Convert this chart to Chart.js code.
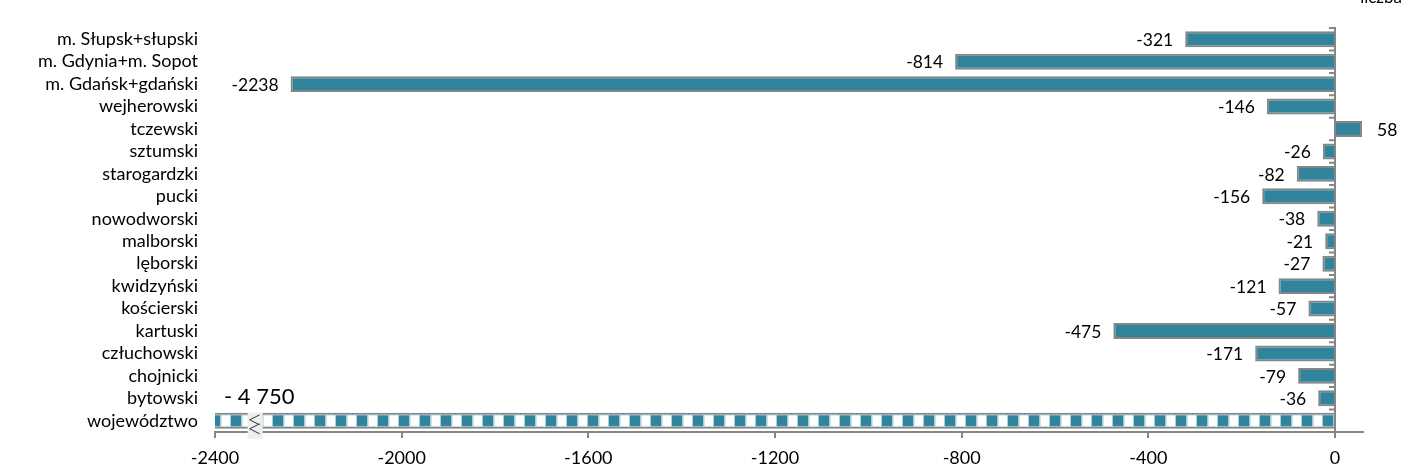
<!DOCTYPE html>
<html>
<head>
<meta charset="utf-8">
<script src="https://cdn.jsdelivr.net/npm/chart.js@4.4.0/dist/chart.umd.min.js"></script>
<style>
  html, body { margin: 0; padding: 0; background: #fff; }
  #wrap { position: relative; width: 1416px; height: 473px; overflow: hidden; }
  #unit { position: absolute; top: -14px; right: 14px; font: 17px Lato, sans-serif; color: #000; }
</style>
</head>
<body>
<div id="wrap">
  <canvas id="myChart" width="1416" height="473"></canvas>
  <div id="unit">liczba</div>
</div>
<script>
const categories = ['m. Słupsk+słupski', 'm. Gdynia+m. Sopot', 'm. Gdańsk+gdański', 'wejherowski', 'tczewski',
  'sztumski', 'starogardzki', 'pucki', 'nowodworski', 'malborski', 'lęborski', 'kwidzyński', 'kościerski',
  'kartuski', 'człuchowski', 'chojnicki', 'bytowski', 'województwo'];
const values = [-321, -814, -2238, -146, 58, -26, -82, -156, -38, -21, -27, -121, -57, -475, -171, -79, -36, -4750];
const totalLabel = '- 4 750';
const tickValues = [-2400, -2000, -1600, -1200, -800, -400, 0];
const axisMin = -2400;
const axisMax = 60;
const breakAt = -2315;

const barColor = '#31849b';
const gray = '#868686';
const fontFamily = 'Lato, sans-serif';

// checkered fill for the total bar
const tile = document.createElement('canvas');
tile.width = 21;
tile.height = 16;
const tc = tile.getContext('2d');
tc.fillStyle = '#a3cfd9';
tc.fillRect(0, 0, 21, 16);
tc.fillStyle = barColor;
tc.fillRect(0, 2.5, 10, 11);
tc.fillStyle = '#ffffff';
tc.fillRect(11.5, 2.5, 8.5, 11);
const totalPattern = document.getElementById('myChart').getContext('2d').createPattern(tile, 'repeat');

const lastIdx = values.length - 1;
const colors = values.map((v, i) => i === lastIdx ? totalPattern : barColor);

const extras = {
  id: 'extras',
  beforeDatasetsDraw(chart) {
    const bar = chart.getDatasetMeta(0).data[lastIdx];
    const top = bar.y - bar.height / 2;
    const x0 = chart.scales.x.getPixelForValue(0);
    totalPattern.setTransform(new DOMMatrix().translate(x0 - 12, top));
  },
  afterDatasetsDraw(chart) {
    const ctx = chart.ctx;
    const xs = chart.scales.x;
    const area = chart.chartArea;
    const x0 = xs.getPixelForValue(0);
    const meta = chart.getDatasetMeta(0);
    ctx.save();

    // vertical axis at zero with marks between categories
    ctx.strokeStyle = gray;
    ctx.lineWidth = 2;
    ctx.beginPath();
    ctx.moveTo(x0, area.top);
    ctx.lineTo(x0, area.bottom);
    const step = (area.bottom - area.top) / categories.length;
    for (let i = 0; i < categories.length; i++) {
      const y = area.top + i * step;
      ctx.moveTo(x0 + 1, y);
      ctx.lineTo(x0 - 6, y);
    }
    ctx.stroke();

    // value labels
    ctx.fillStyle = '#000';
    ctx.textBaseline = 'middle';
    meta.data.forEach((el, i) => {
      const v = values[i];
      if (i === lastIdx) {
        ctx.font = '22px ' + fontFamily;
        ctx.textAlign = 'left';
        ctx.fillText(totalLabel, area.left + 9, el.y - 24);
        return;
      }
      ctx.font = '17.5px ' + fontFamily;
      if (v < 0) {
        ctx.textAlign = 'right';
        ctx.fillText(String(v), el.x - 12, el.y + 1);
      } else {
        ctx.textAlign = 'left';
        ctx.fillText(String(v), el.x + 15, el.y + 1);
      }
    });

    // axis break mark on the total bar
    const tb = meta.data[lastIdx];
    const bx = xs.getPixelForValue(breakAt);
    const btop = tb.y - tb.height / 2;
    ctx.fillStyle = '#eeeeee';
    ctx.fillRect(bx - 7, btop, 15, 26);
    ctx.strokeStyle = '#333';
    ctx.lineWidth = 1;
    ctx.beginPath();
    ctx.moveTo(bx + 5, btop + 2);
    ctx.lineTo(bx - 5, btop + 7);
    ctx.lineTo(bx + 5, btop + 12);
    ctx.moveTo(bx + 5, btop + 11);
    ctx.lineTo(bx - 5, btop + 16);
    ctx.lineTo(bx + 5, btop + 21);
    ctx.stroke();
    ctx.restore();
  }
};

new Chart(document.getElementById('myChart'), {
  type: 'bar',
  data: {
    labels: categories,
    datasets: [{
      data: values,
      backgroundColor: colors,
      borderColor: gray,
      borderWidth: 2,
      barPercentage: 0.71,
      categoryPercentage: 1
    }]
  },
  options: {
    indexAxis: 'y',
    responsive: false,
    animation: false,
    devicePixelRatio: 1,
    layout: { padding: { top: 28, right: 53, left: 0, bottom: 0 } },
    plugins: { legend: { display: false }, tooltip: { enabled: false } },
    scales: {
      x: {
        min: axisMin,
        max: axisMax,
        afterBuildTicks: (scale) => { scale.ticks = tickValues.map(v => ({ value: v })); },
        afterFit: (scale) => { scale.height = 41; },
        grid: { drawOnChartArea: false, drawTicks: true, tickLength: 6, color: gray, lineWidth: 2 },
        border: { display: true, color: gray, width: 2 },
        ticks: {
          color: '#000', padding: 9, maxRotation: 0,
          font: { family: fontFamily, size: 18 },
          callback: (v) => String(v)
        }
      },
      y: {
        afterFit: (scale) => { scale.width = 215; },
        grid: { display: false },
        border: { display: false },
        ticks: { color: '#000', padding: 9, autoSkip: false, font: { family: fontFamily, size: 18 } }
      }
    }
  },
  plugins: [extras]
});
</script>
</body>
</html>
